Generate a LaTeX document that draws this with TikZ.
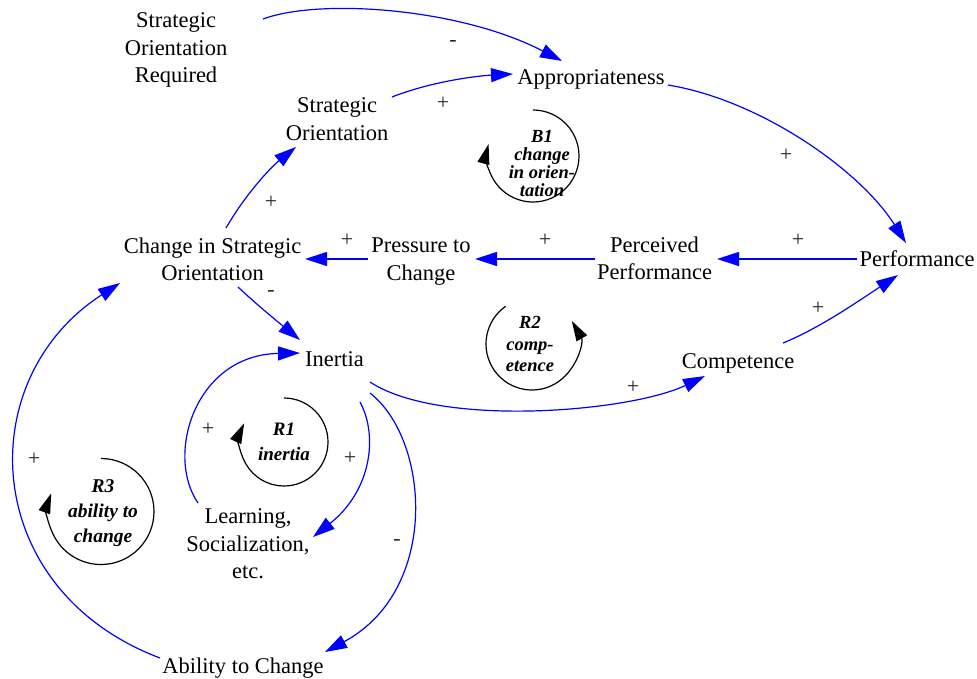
\documentclass[tikz,border=0pt]{standalone}
\usepackage{fontspec}
\setmainfont{Liberation Serif}
\usetikzlibrary{arrows.meta}
\definecolor{edgeblue}{RGB}{0,0,255}
\tikzset{
  var/.style={inner sep=0pt, align=center, font=\fontsize{22.5}{27.5}\selectfont},
  lab/.style={inner sep=0pt, text=black!85, font=\fontsize{22}{22}\selectfont},
  link/.style={draw=edgeblue, line width=1.2pt, -{Triangle[length=22pt,width=14pt]}},
  loopc/.style={draw=black, line width=1.2pt, -{Triangle[length=20pt,width=12pt]}},
  looptext/.style={inner sep=0pt, align=center, font=\bfseries\itshape}
}
\begin{document}
\begin{tikzpicture}[x=1pt,y=-1pt]
\useasboundingbox (0,0) rectangle (977,678);
% variables
\node[var] (sor) at (176,50) {Strategic\\Orientation\\Required};
\node[var] (app) at (591,79) {Appropriateness};
\node[var] (so) at (337,119) {Strategic\\Orientation};
\node[var] (cso) at (212.5,259.5) {Change in Strategic\\Orientation};
\node[var] (ptc) at (421,261.5) {Pressure to\\Change};
\node[var] (pp) at (654.5,258.5) {Perceived\\Performance};
\node[var] (perf) at (917,259) {Performance};
\node[var] (inert) at (334.5,359) {Inertia};
\node[var] (comp) at (738,363) {Competence};
\node[var] (learn) at (248,544) {Learning,\\Socialization,\\etc.};
\node[var] (atc) at (243,668) {Ability to Change};
% links
\draw[link] ([shift={(87,-31)}]sor.center) .. controls (320,-2) and (460,8) .. ([shift={(-29,-18)}]app.center);
\draw[link] ([shift={(55,-22)}]so.center) .. controls (430,82) and (475,76) .. ([shift={(-78,-5)}]app.center);
\draw[link] ([shift={(77,6)}]app.center) .. controls (760,100) and (860,170) .. ([shift={(-11,-16)}]perf.center);
\draw[link] ([shift={(-60,0)}]perf.center) -- ([shift={(62.5,0.5)}]pp.center);
\draw[link] ([shift={(-60,0.5)}]pp.center) -- ([shift={(54,-2.5)}]ptc.center);
\draw[link] ([shift={(-53,-2.5)}]ptc.center) -- ([shift={(92.5,-0.5)}]cso.center);
\draw[link] ([shift={(13.5,-31.5)}]cso.center) .. controls (245,195) and (270,168) .. ([shift={(-41,28)}]so.center);
\draw[link] ([shift={(25.5,27.5)}]cso.center) .. controls (255,303) and (278,322) .. ([shift={(-34.5,-19)}]inert.center);
\draw[link] ([shift={(35.5,23)}]inert.center) .. controls (440,428) and (630,412) .. ([shift={(-33,13)}]comp.center);
\draw[link] ([shift={(45,-20)}]comp.center) .. controls (820,328) and (860,300) .. ([shift={(-19,16)}]perf.center);
\draw[link] ([shift={(25.5,43)}]inert.center) .. controls (378,435) and (372,490) .. ([shift={(65,-7)}]learn.center);
\draw[link] ([shift={(-50,-41)}]learn.center) .. controls (165,455) and (195,355) .. ([shift={(-34.5,-6)}]inert.center);
\draw[link] ([shift={(35.5,34)}]inert.center) .. controls (430,440) and (440,590) .. ([shift={(82,-16)}]atc.center);
\draw[link] ([shift={(-83,-10)}]atc.center) .. controls (-20,590) and (-30,380) .. ([shift={(-92.5,23.5)}]cso.center);
% polarity labels
\node[lab] (l1) at (453,43) {-};
\node[lab] (l2) at (443,103) {+};
\node[lab] (l3) at (786,155) {+};
\node[lab] (l4) at (798,240) {+};
\node[lab] (l5) at (545,240) {+};
\node[lab] (l6) at (347,240) {+};
\node[lab] (l7) at (271,202) {+};
\node[lab] (l8) at (271,293) {-};
\node[lab] (l9) at (633,387) {+};
\node[lab] (l10) at (818,308) {+};
\node[lab] (l11) at (350,458) {+};
\node[lab] (l12) at (208,429) {+};
\node[lab] (l13) at (397,542) {-};
\node[lab] (l14) at (34,459) {+};
% loops
\coordinate (b1) at (533,156);
\coordinate (r2) at (532,344);
\coordinate (r1) at (284,442);
\coordinate (r3) at (101,511.5);
\draw[loopc] ([shift={(90:46pt)}]b1) arc[start angle=90, end angle=-195, radius=46pt];
\draw[loopc] ([shift={(125:46pt)}]r2) arc[start angle=125, end angle=390, radius=46pt];
\draw[loopc] ([shift={(90:44pt)}]r1) arc[start angle=90, end angle=-205, radius=44pt];
\draw[loopc] ([shift={(90:53pt)}]r3) arc[start angle=90, end angle=-200, radius=53pt];
\node[looptext, font=\bfseries\itshape\fontsize{18.5}{18}\selectfont] (b1t) at (542,163) {B1\\change\\in orien-\\tation};
\node[looptext, font=\bfseries\itshape\fontsize{18.5}{21.5}\selectfont] (r2t) at (530,344) {R2\\comp-\\etence};
\node[looptext, font=\bfseries\itshape\fontsize{19}{25}\selectfont] (r1t) at (284,442) {R1\\inertia};
\node[looptext, font=\bfseries\itshape\fontsize{19.5}{25}\selectfont] (r3t) at (103,513) {R3\\ability to\\change};
\end{tikzpicture}
\end{document}
